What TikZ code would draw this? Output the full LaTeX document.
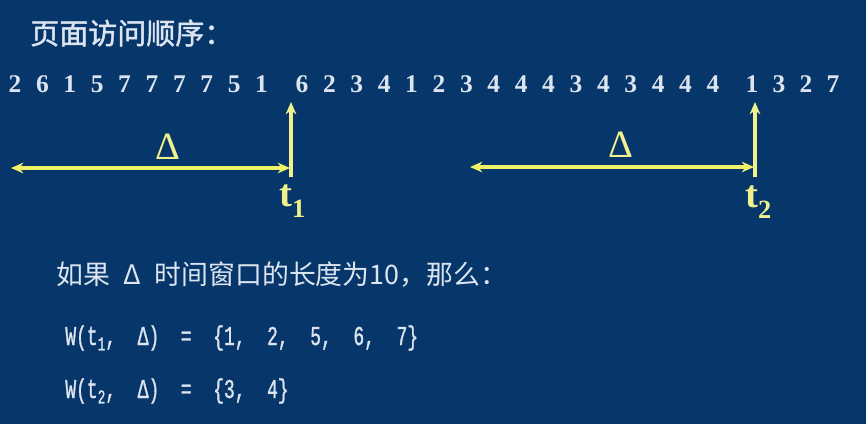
\documentclass[tikz,border=0pt]{standalone}
\usepackage{fontspec}
\usetikzlibrary{arrows.meta}
\setmainfont{Liberation Serif}
\newfontfamily\cjkfont{Noto Sans CJK SC}
\newfontfamily\cjkheavy[FakeBold=1.4]{Noto Sans CJK SC}
\newfontfamily\wfont[FakeStretch=0.66,FakeBold=1]{Liberation Mono}
\definecolor{bgblue}{HTML}{07366A}
\definecolor{paleyellow}{HTML}{F0F08C}
\definecolor{lineyellow}{HTML}{EEF266}
\definecolor{chalk}{HTML}{DCE5EF}
\begin{document}
\begin{tikzpicture}[x=0.02cm, y=-0.02cm,
    seq/.style={text=chalk, inner sep=0pt, font=\fontsize{14.5}{14.5}\selectfont\bfseries},
    cjk/.style={text=chalk, inner sep=0pt, anchor=west, font=\fontsize{15.3}{16}\selectfont\cjkfont},
    wline/.style={text=chalk, inner sep=0pt, anchor=base west, font=\fontsize{15.5}{15.5}\selectfont\wfont},
    delta/.style={text=paleyellow, inner sep=0pt, font=\fontsize{22}{22}\selectfont},
    tlabel/.style={text=paleyellow, inner sep=0pt, anchor=base west, font=\fontsize{22}{22}\selectfont\bfseries},
    win/.style={lineyellow, line width=2pt, <->, >={Stealth[length=7pt,width=6pt]}},
    tick/.style={paleyellow, line width=2pt, ->, >={Stealth[length=7pt,width=6pt]}}]
    \fill[bgblue] (0,0) rectangle (866,424);
    \node[cjk, font=\fontsize{16.5}{17}\selectfont\cjkheavy] (title) at (30,33) {页面访问顺序：};
    % page reference string
    \foreach \d [count=\i] in {2,6,1,5,7,7,7,7,5,1}
      \node[seq] (a\i) at ({15+27.4*(\i-1)},84) {\d};
    \foreach \d [count=\i] in {6,2,3,4,1,2,3,4,4,4,3,4,3,4,4,4}
      \node[seq] (b\i) at ({302+27.4*(\i-1)},84) {\d};
    \foreach \d [count=\i] in {1,3,2,7}
      \node[seq] (c\i) at ({752+27*(\i-1)},84) {\d};
    % first window
    \coordinate (t1top) at (291,102);
    \coordinate (t1bot) at (291,177);
    \coordinate (w1l) at (11,168);
    \coordinate (w1r) at (290,168);
    \draw[tick] (t1bot) -- (t1top);
    \draw[win] (w1l) -- (w1r);
    \node[delta] (d1) at (168,147) {Δ};
    \node[tlabel] (t1) at (279,206) {t\raisebox{-6.5pt}{\fontsize{15}{15}\selectfont 1}};
    % second window
    \coordinate (t2top) at (755,102);
    \coordinate (t2bot) at (755,177);
    \coordinate (w2l) at (470,167);
    \coordinate (w2r) at (754,167);
    \draw[tick] (t2bot) -- (t2top);
    \draw[win] (w2l) -- (w2r);
    \node[delta] (d2) at (621,145) {Δ};
    \node[tlabel] (t2) at (745,207) {t\raisebox{-6.5pt}{\fontsize{15}{15}\selectfont 2}};
    % working sets
    \node[cjk] (note) at (56,275) {如果\hspace{0.5em}Δ\hspace{0.5em}时间窗口的长度为10，那么：};
    \node[wline] (ws1) at (65,345) {W(t\raisebox{-3pt}{\fontsize{11}{11}\selectfont 1},~~Δ)~~=~~\{1,~~2,~~5,~~6,~~7\}};
    \node[wline] (ws2) at (65,398) {W(t\raisebox{-3pt}{\fontsize{11}{11}\selectfont 2},~~Δ)~~=~~\{3,~~4\}};
\end{tikzpicture}
\end{document}
